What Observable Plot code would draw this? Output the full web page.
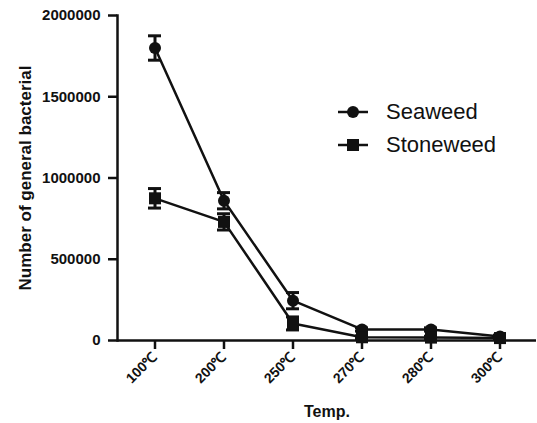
<!DOCTYPE html>
<html><head><meta charset="utf-8">
<script src="https://cdn.jsdelivr.net/npm/d3@7"></script>
<script src="https://cdn.jsdelivr.net/npm/@observablehq/plot@0.6"></script>
<style>
body{margin:0;background:#fff;font-family:"Liberation Sans",Arial,sans-serif;}
#wrap{position:relative;width:537px;height:423px;}
svg text{font-family:"Liberation Sans",Arial,sans-serif;}
[aria-label="y-axis label"]{font-size:17px;font-weight:bold;}
[aria-label="x-axis label"]{font-size:16px;font-weight:bold;}
#legend{position:absolute;left:336px;top:95px;font-size:22px;color:#111;line-height:33px;}
#legend div{display:flex;align-items:center;}
#legend svg{margin-right:16px;}
</style></head>
<body><div id="wrap"><div id="chart"></div>
<div id="legend">
<div><svg width="34" height="16"><line x1="2" y1="8" x2="32" y2="8" stroke="#111" stroke-width="2.5"/><circle cx="17" cy="8" r="6" fill="#111"/></svg>Seaweed</div>
<div><svg width="34" height="16"><line x1="2" y1="8" x2="32" y2="8" stroke="#111" stroke-width="2.5"/><rect x="11" y="2" width="12" height="12" fill="#111"/></svg>Stoneweed</div>
</div></div>
<script>
const temps = ["100℃","200℃","250℃","270℃","280℃","300℃"];
const seaweed = [1800000, 860000, 245000, 68000, 68000, 25000];
const seaweedErr = [75000, 50000, 50000, 10000, 10000, 8000];
const stoneweed = [875000, 730000, 105000, 20000, 18000, 15000];
const stoneweedErr = [60000, 50000, 40000, 8000, 8000, 6000];
const yTicks = [0, 500000, 1000000, 1500000, 2000000];

const data = [];
temps.forEach((t,i)=>{
  data.push({series:"Seaweed", t, v:seaweed[i], lo:seaweed[i]-seaweedErr[i], hi:seaweed[i]+seaweedErr[i]});
  data.push({series:"Stoneweed", t, v:stoneweed[i], lo:stoneweed[i]-stoneweedErr[i], hi:stoneweed[i]+stoneweedErr[i]});
});
const sw = data.filter(d=>d.series==="Seaweed");
const st = data.filter(d=>d.series==="Stoneweed");

const chart = Plot.plot({
  width:537, height:423,
  marginLeft:117, marginTop:15, marginBottom:83, marginRight:1,
  style:{background:"#fff", color:"#111"},
  x:{type:"band", domain:temps, padding:0, label:null},
  y:{domain:[0,2000000], label:null},
  marks:[
    Plot.frame({anchor:"left", strokeWidth:2.5, stroke:"#111"}),
    Plot.ruleY([0], {strokeWidth:2.5, stroke:"#111"}),
    Plot.axisY({ticks:yTicks, tickSize:9, tickPadding:8, tickFormat:d=>String(d), fontSize:15, fontWeight:"bold", strokeWidth:2.5, label:"Number of general bacterial", labelArrow:"none", labelAnchor:"center", labelOffset:99}),
    Plot.axisX({tickSize:9, tickRotate:-45, tickPadding:5, fontSize:14, fontWeight:"bold", strokeWidth:2.5, label:"Temp.", labelArrow:"none", labelAnchor:"center", labelOffset:76}),
    Plot.line(sw, {x:"t", y:"v", stroke:"#111", strokeWidth:2.5}),
    Plot.line(st, {x:"t", y:"v", stroke:"#111", strokeWidth:2.5}),
    Plot.ruleX(data, {x:"t", y1:"lo", y2:"hi", stroke:"#111", strokeWidth:3}),
    Plot.tickY(data, {x:"t", y:"hi", stroke:"#111", strokeWidth:3, insetLeft:28, insetRight:28}),
    Plot.tickY(data, {x:"t", y:"lo", stroke:"#111", strokeWidth:3, insetLeft:28, insetRight:28}),
    Plot.dot(sw, {x:"t", y:"v", symbol:"circle", r:6, fill:"#111"}),
    Plot.dot(st, {x:"t", y:"v", symbol:"square", r:6.8, fill:"#111"})
  ]
});
document.getElementById("chart").appendChild(chart);
</script></body></html>
